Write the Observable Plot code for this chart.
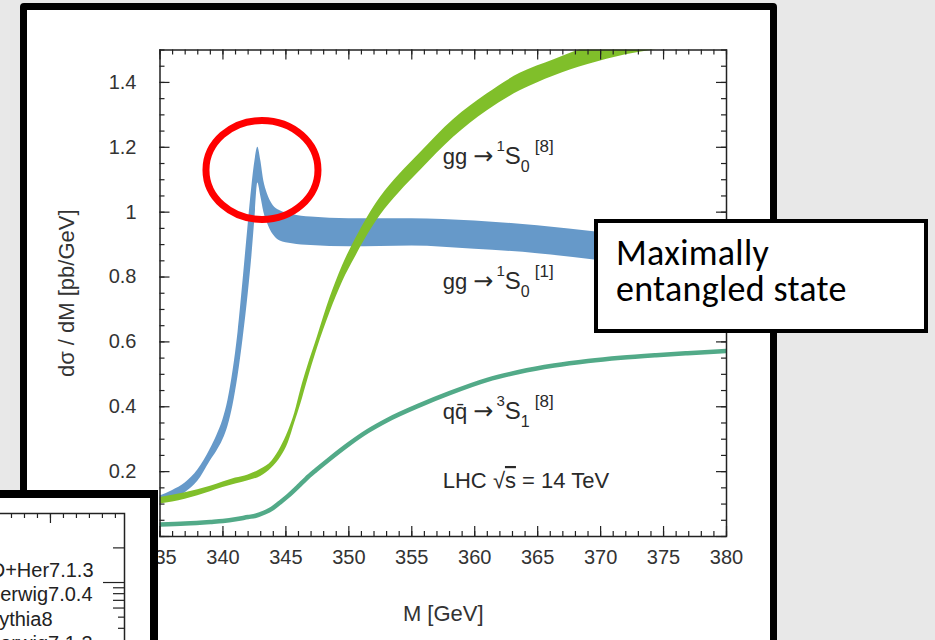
<!DOCTYPE html>
<html>
<head>
<meta charset="utf-8">
<script src="https://cdn.jsdelivr.net/npm/d3@7"></script>
<script src="https://cdn.jsdelivr.net/npm/@observablehq/plot@0.6"></script>
<style>
  html, body { margin: 0; padding: 0; width: 935px; height: 640px; overflow: hidden; background: #e8e8e8; }
  #panel { position: absolute; left: 20px; top: 3px; width: 757px; height: 645px; box-sizing: border-box;
           border: 7px solid #000; border-radius: 4px; background: #fff; }
  #chart { position: absolute; left: 0; top: 0; width: 935px; height: 640px; }
  #inset { position: absolute; left: -10px; top: 490px; width: 168px; height: 160px; box-sizing: border-box;
           border: 8px solid #000; background: #fff; overflow: hidden; }
  #inset svg { position: absolute; left: 0; top: 0; overflow: visible; }
  #note { position: absolute; left: 594px; top: 219px; width: 334px; height: 114px; box-sizing: border-box;
          border: 4.5px solid #000; background: #fff; }
  #note svg { position: absolute; left: 0; top: 0; }
</style>
</head>
<body>
<div id="panel"></div>
<div id="chart"></div>
<div id="inset"></div>
<div id="note"></div>
<script>
// ---- t-tbar invariant mass spectra near threshold, LHC 14 TeV ----

// gg -> 1S0[1] (colour singlet) band
const singletM    = [335, 336, 337, 338, 339, 339.5, 340, 340.4, 340.8, 341.2, 341.6, 342, 342.3, 342.55, 342.77, 343.0, 343.25, 343.5, 344, 344.5, 345.5, 347, 350, 355, 360, 365, 370, 375, 380];
const singletHigh = [0.125, 0.142, 0.165, 0.205, 0.27, 0.31, 0.36, 0.42, 0.51, 0.63, 0.79, 0.96, 1.08, 1.16, 1.2, 1.16, 1.095, 1.06, 1.02, 1.005, 0.993, 0.985, 0.98, 0.98, 0.973, 0.958, 0.937, 0.912, 0.885];
const singletLow  = [0.105, 0.115, 0.135, 0.17, 0.233, 0.262, 0.298, 0.34, 0.405, 0.495, 0.61, 0.745, 0.865, 0.985, 1.09, 1.05, 1.0, 0.97, 0.93, 0.912, 0.903, 0.897, 0.893, 0.896, 0.886, 0.872, 0.85, 0.825, 0.8];

// gg -> 1S0[8] (colour octet) band
const octetM    = [335, 337, 339, 340, 341, 342, 343, 343.9, 344.6, 345.2, 345.7, 346.2, 346.7, 347.5, 348.5, 349.5, 350.5, 351.5, 352.5, 354, 355.7, 358.3, 361, 363.6, 366.3, 369, 372, 376, 380];
const octetHigh = [0.12, 0.135, 0.155, 0.168, 0.18, 0.19, 0.207, 0.233, 0.275, 0.325, 0.38, 0.455, 0.52, 0.615, 0.735, 0.835, 0.915, 0.985, 1.045, 1.115, 1.184, 1.285, 1.365, 1.428, 1.47, 1.51, 1.545, 1.58, 1.6];
const octetLow  = [0.10, 0.115, 0.138, 0.151, 0.162, 0.172, 0.185, 0.212, 0.245, 0.29, 0.35, 0.41, 0.478, 0.58, 0.69, 0.785, 0.86, 0.93, 0.99, 1.06, 1.129, 1.23, 1.313, 1.374, 1.42, 1.455, 1.485, 1.51, 1.53];

// q qbar -> 3S1[8] curve
const qqM     = [335, 337, 339, 340, 341, 342, 342.6, 343.3, 343.9, 344.5, 345.2, 346, 346.6, 347.4, 348.5, 350, 351.5, 353, 355.7, 358, 361, 363.5, 366.3, 369, 371.6, 374.4, 376.9, 380];
const qqValue = [0.037, 0.04, 0.045, 0.048, 0.053, 0.06, 0.064, 0.074, 0.086, 0.104, 0.126, 0.155, 0.178, 0.205, 0.24, 0.285, 0.325, 0.358, 0.406, 0.442, 0.483, 0.507, 0.527, 0.541, 0.551, 0.559, 0.565, 0.572];

// axes
const xMajorTicks = [335, 340, 345, 350, 355, 360, 365, 370, 375, 380];
const xTickLabels = ["335", "340", "345", "350", "355", "360", "365", "370", "375", "380"];
const yMajorTicks = [0, 0.2, 0.4, 0.6, 0.8, 1.0, 1.2, 1.4];
const yTickLabels = ["0", "0.2", "0.4", "0.6", "0.8", "1", "1.2", "1.4"];
const xTitle = "M [GeV]";
const yTitle = "dσ / dM [pb/GeV]";

// curve labels: initial state, pre-superscript, subscript, superscript
const procLhs  = ["gg", "gg", "qq\u0304"];
const procPre  = ["1", "1", "3"];
const procSub  = ["0", "0", "1"];
const procSup  = ["[8]", "[1]", "[8]"];
const arrow = "→";
const energyLabel = ["LHC ", "√", "s", " = 14 TeV"];
const noteLines = ["Maximally", "entangled state"];

// neighbouring panel (partially visible)
const insetLegend = ["D+Her7.1.3", "Herwig7.0.4", "Pythia8", "Herwig7.1.3"];
const insetXTicks = [332, 333, 334, 335, 336, 337, 338, 339, 340];
const insetXMajor = [335];
const insetYTicks = [2, 0.9, 0.8, 0.7, 0.6];
const insetYShort = [0.5, 0.4];
const insetYUnit = [1];

const BLUE = "#6699c9", GREEN = "#80bf2a", TEAL = "#52aa88", INK = "#222";
const FONT = "'Liberation Sans', Arial, Helvetica, sans-serif";

const singlet = singletM.map((m, i) => ({m, lo: singletLow[i], hi: singletHigh[i]}));
const octet = octetM.map((m, i) => ({m, lo: octetLow[i], hi: octetHigh[i]}));
const qq = qqM.map((m, i) => ({m, v: qqValue[i]}));
const xMinor = d3.range(335, 381, 1);
const yMinor = d3.range(0, 31).map(k => k * 0.05);

const W = 935, H = 640;
const mL = 159.5, mR = 209, mT = 49.5, mB = 104;
const innerW = W - mL - mR, innerH = H - mT - mB;

const chart = Plot.plot({
  width: W, height: H,
  marginLeft: mL, marginRight: mR, marginTop: mT, marginBottom: mB,
  style: {background: "transparent", fontFamily: FONT, fontSize: "20px", color: "#333", overflow: "visible"},
  x: {domain: [335, 380]},
  y: {domain: [0, 1.5]},
  marks: [
    Plot.areaY(singlet, {x: "m", y1: "lo", y2: "hi", fill: BLUE, curve: "monotone-x", clip: true}),
    Plot.areaY(octet, {x: "m", y1: "lo", y2: "hi", fill: GREEN, curve: "monotone-x", clip: true}),
    Plot.line(qq, {x: "m", y: "v", stroke: TEAL, strokeWidth: 4.5, curve: "monotone-x", clip: true}),
    // inward ticks on all four sides
    Plot.tickX(xMinor, {x: d => d, insetTop: innerH - 5, stroke: INK, strokeWidth: 1.2}),
    Plot.tickX(xMinor, {x: d => d, insetBottom: innerH - 5, stroke: INK, strokeWidth: 1.2}),
    Plot.tickX(xMajorTicks, {x: d => d, insetTop: innerH - 10, stroke: INK, strokeWidth: 1.2}),
    Plot.tickX(xMajorTicks, {x: d => d, insetBottom: innerH - 10, stroke: INK, strokeWidth: 1.2}),
    Plot.tickY(yMinor, {y: d => d, insetRight: innerW - 5, stroke: INK, strokeWidth: 1.2}),
    Plot.tickY(yMinor, {y: d => d, insetLeft: innerW - 5, stroke: INK, strokeWidth: 1.2}),
    Plot.tickY(yMajorTicks, {y: d => d, insetRight: innerW - 10, stroke: INK, strokeWidth: 1.2}),
    Plot.tickY(yMajorTicks, {y: d => d, insetLeft: innerW - 10, stroke: INK, strokeWidth: 1.2}),
    Plot.frame({stroke: INK, strokeWidth: 1.5}),
    Plot.axisX({ticks: xMajorTicks, tickSize: 0, tickPadding: 13, label: null,
                tickFormat: d => xTickLabels[xMajorTicks.indexOf(d)]}),
    Plot.axisY({ticks: yMajorTicks, tickSize: 0, tickPadding: 23.5, label: null,
                tickFormat: d => yTickLabels[yMajorTicks.indexOf(d)]}),
    Plot.text([xTitle], {frameAnchor: "bottom", dy: 77, fontSize: 22, lineAnchor: "middle", fill: "#333"}),
    Plot.text([yTitle], {frameAnchor: "left", dx: -93.5, rotate: -90, fontSize: 22, lineAnchor: "middle",
                         textAnchor: "middle", fill: "#333"})
  ]
});
document.getElementById("chart").appendChild(chart);

// curve labels with sub/superscripts, placed through the chart scales
const sx = chart.scale("x"), sy = chart.scale("y");
const svg = d3.select(chart);
const labels = svg.append("g").attr("font-family", FONT).attr("fill", "#2a2a2a").attr("text-anchor", "start");
const labelAt = [[357.5, 1.147], [357.5, 0.7616], [357.5, 0.3607]];
procLhs.forEach((lhs, i) => {
  const t = labels.append("text")
    .attr("x", sx.apply(labelAt[i][0])).attr("y", sy.apply(labelAt[i][1]))
    .attr("font-size", 22);
  t.append("tspan").text(lhs + " ");
  t.append("tspan").attr("font-family", "'DejaVu Sans', sans-serif").attr("font-size", 24).text(arrow);
  t.append("tspan").attr("font-size", 15).attr("dy", -13).attr("dx", 3).text(procPre[i]);
  t.append("tspan").attr("dy", 13).attr("font-size", 24).text("S");
  t.append("tspan").attr("font-size", 16).attr("dy", 8).text(procSub[i]);
  t.append("tspan").attr("font-size", 17).attr("dy", -20).attr("dx", 5).text(procSup[i]);
});
const e = labels.append("text")
  .attr("x", sx.apply(357.5)).attr("y", sy.apply(0.148)).attr("font-size", 22);
e.append("tspan").text(energyLabel[0]);
e.append("tspan").text(energyLabel[1]);
e.append("tspan").style("text-decoration", "overline").text(energyLabel[2]);
e.append("tspan").text(energyLabel[3]);

// red ring around the threshold peak
svg.append("ellipse")
  .attr("cx", sx.apply(343.14)).attr("cy", sy.apply(1.1285))
  .attr("rx", 56).attr("ry", 49.5)
  .attr("fill", "none").attr("stroke", "#ff0000").attr("stroke-width", 7);

// neighbouring panel, bottom left
const iW = 152, iH = 150, imT = 15, imR = 26;
const iInnerW = iW - imR, iInnerH = iH - imT;
const inset = Plot.plot({
  width: iW, height: iH, marginLeft: 0, marginRight: imR, marginTop: imT, marginBottom: 0,
  style: {background: "transparent", fontFamily: FONT, fontSize: "20px", color: "#222", overflow: "visible"},
  x: {domain: [331, 340.7], axis: null},
  y: {type: "log", domain: [0.267, 3.98], axis: null},
  marks: [
    Plot.frame({stroke: INK, strokeWidth: 1.5}),
    Plot.tickX(insetXTicks, {x: d => d, insetBottom: iInnerH - 5, stroke: INK, strokeWidth: 1.2}),
    Plot.tickX(insetXMajor, {x: d => d, insetBottom: iInnerH - 10, stroke: INK, strokeWidth: 1.2}),
    Plot.tickY(insetYTicks, {y: d => d, insetLeft: iInnerW - 11, stroke: INK, strokeWidth: 1.2}),
    Plot.tickY(insetYShort, {y: d => d, insetLeft: iInnerW - 6, stroke: INK, strokeWidth: 1.2}),
    Plot.tickY(insetYUnit, {y: d => d, insetLeft: iInnerW - 21, stroke: INK, strokeWidth: 1.2}),
    ...insetLegend.map((s, i) => Plot.text([s], {
      frameAnchor: "top-left", textAnchor: "start", lineAnchor: "middle",
      dx: i === 0 ? -7.8 : -12.7, dy: 56.6 + 24.5 * i, fontSize: 20, fill: "#222"
    }))
  ]
});
document.getElementById("inset").appendChild(inset);

// call-out box: one text block, two lines
const note = d3.select("#note").append("svg").attr("width", 325).attr("height", 105);
const noteText = note.append("text")
  .attr("font-family", "Carlito, 'Open Sans', Lato, sans-serif").attr("font-size", 36)
  .attr("letter-spacing", 0.3).attr("fill", "#000");
noteLines.forEach((s, i) => {
  noteText.append("tspan").attr("x", 18).attr("y", 42 + 35.5 * i).text(s);
});
</script>
</body>
</html>
